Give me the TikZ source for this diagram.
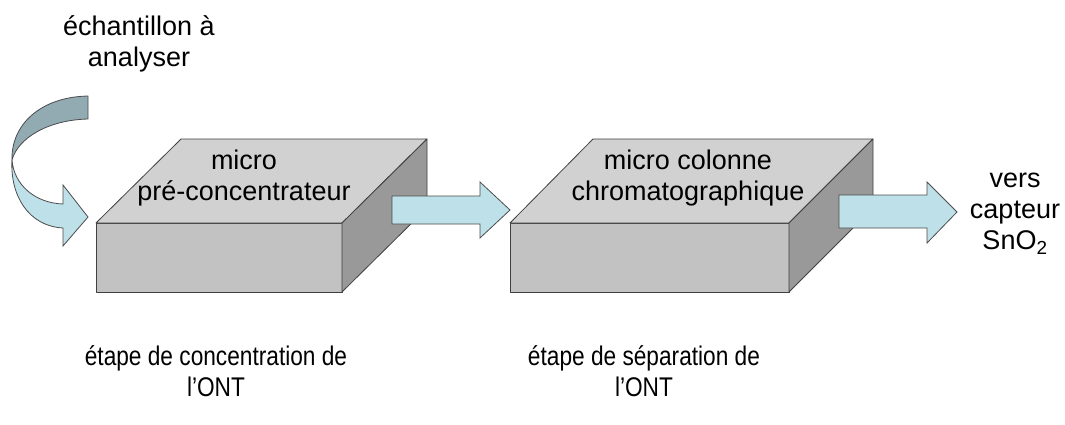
\documentclass[tikz,border=0pt]{standalone}
\usepackage{fontspec}
\usepackage{graphicx}
\setmainfont{Liberation Sans}
\newcommand{\narrowtext}[1]{\scalebox{0.84}[1]{#1}}
\begin{document}
\begin{tikzpicture}[x=1pt,y=-1pt,
  lbl/.style={align=center,inner sep=0pt,font=\fontsize{27}{31}\selectfont},
  face/.style={draw=black!75,line width=0.8pt,line join=round},
  frontface/.style={face,fill=black!24},
  topface/.style={face,fill=black!18},
  sideface/.style={face,fill=black!40},
  barrow/.style={draw=black!70,line width=0.8pt,line join=miter},
  darkband/.style={draw=black!70,line width=0.8pt}
]
\useasboundingbox (0,0) rectangle (1065,424);
\definecolor{arrowfill}{RGB}{190,224,232}
\definecolor{bandfill}{RGB}{146,170,178}

% ---- box 1
\coordinate (b1fl) at (96,292);
\coordinate (b1tl) at (96,223);
\coordinate (b1tr) at (342,223);
\coordinate (b1br) at (342,292);
\coordinate (b1bl) at (181,139);
\coordinate (b1bt) at (427,139);
\coordinate (b1bb) at (427,208);
\draw[frontface] (b1fl) -- (b1tl) -- (b1tr) -- (b1br) -- cycle;
\draw[topface] (b1tl) -- (b1bl) -- (b1bt) -- (b1tr) -- cycle;
\draw[sideface] (b1tr) -- (b1bt) -- (b1bb) -- (b1br) -- cycle;

% ---- box 2
\coordinate (b2fl) at (510,292);
\coordinate (b2tl) at (510,223);
\coordinate (b2tr) at (789,223);
\coordinate (b2br) at (789,292);
\coordinate (b2bl) at (593,139);
\coordinate (b2bt) at (873,139);
\coordinate (b2bb) at (873,208);
\draw[frontface] (b2fl) -- (b2tl) -- (b2tr) -- (b2br) -- cycle;
\draw[topface] (b2tl) -- (b2bl) -- (b2bt) -- (b2tr) -- cycle;
\draw[sideface] (b2tr) -- (b2bt) -- (b2bb) -- (b2br) -- cycle;

% ---- block arrow 1
\draw[barrow,fill=arrowfill] (392,196) -- (480,196) -- (480,182) -- (510,210)
  -- (480,238) -- (480,224) -- (392,224) -- cycle;
% ---- block arrow 2
\draw[barrow,fill=arrowfill] (839,195) -- (927,195) -- (927,182) -- (957,212)
  -- (927,243) -- (927,228) -- (839,228) -- cycle;

% ---- curved arrow
\draw[darkband,fill=bandfill] (88,96) .. controls (40,97) and (11,125) .. (12,160)
  .. controls (18,138) and (48,120) .. (88,119) -- cycle;
\draw[barrow,fill=arrowfill] (12,160) .. controls (14,185) and (35,203) .. (63,204)
  -- (63,185) -- (88,217) -- (63,246) -- (63,228)
  .. controls (28,226) and (10,195) .. (12,160) -- cycle;

% ---- labels
\node[lbl] (src) at (139,44) {échantillon à\\analyser};
\node[lbl] (t1) at (244,178) {micro\\pré-concentrateur};
\node[lbl] (t2) at (688,178) {micro colonne\\chromatographique};
\node[lbl] (dst) at (1015,214) {vers\\capteur\\SnO\textsubscript{2}};
\node[lbl] (s1) at (216,371) {\narrowtext{étape de concentration de}\\\narrowtext{l’ONT}};
\node[lbl] (s2) at (644,371) {\narrowtext{étape de séparation de}\\\narrowtext{l’ONT}};
\end{tikzpicture}
\end{document}
